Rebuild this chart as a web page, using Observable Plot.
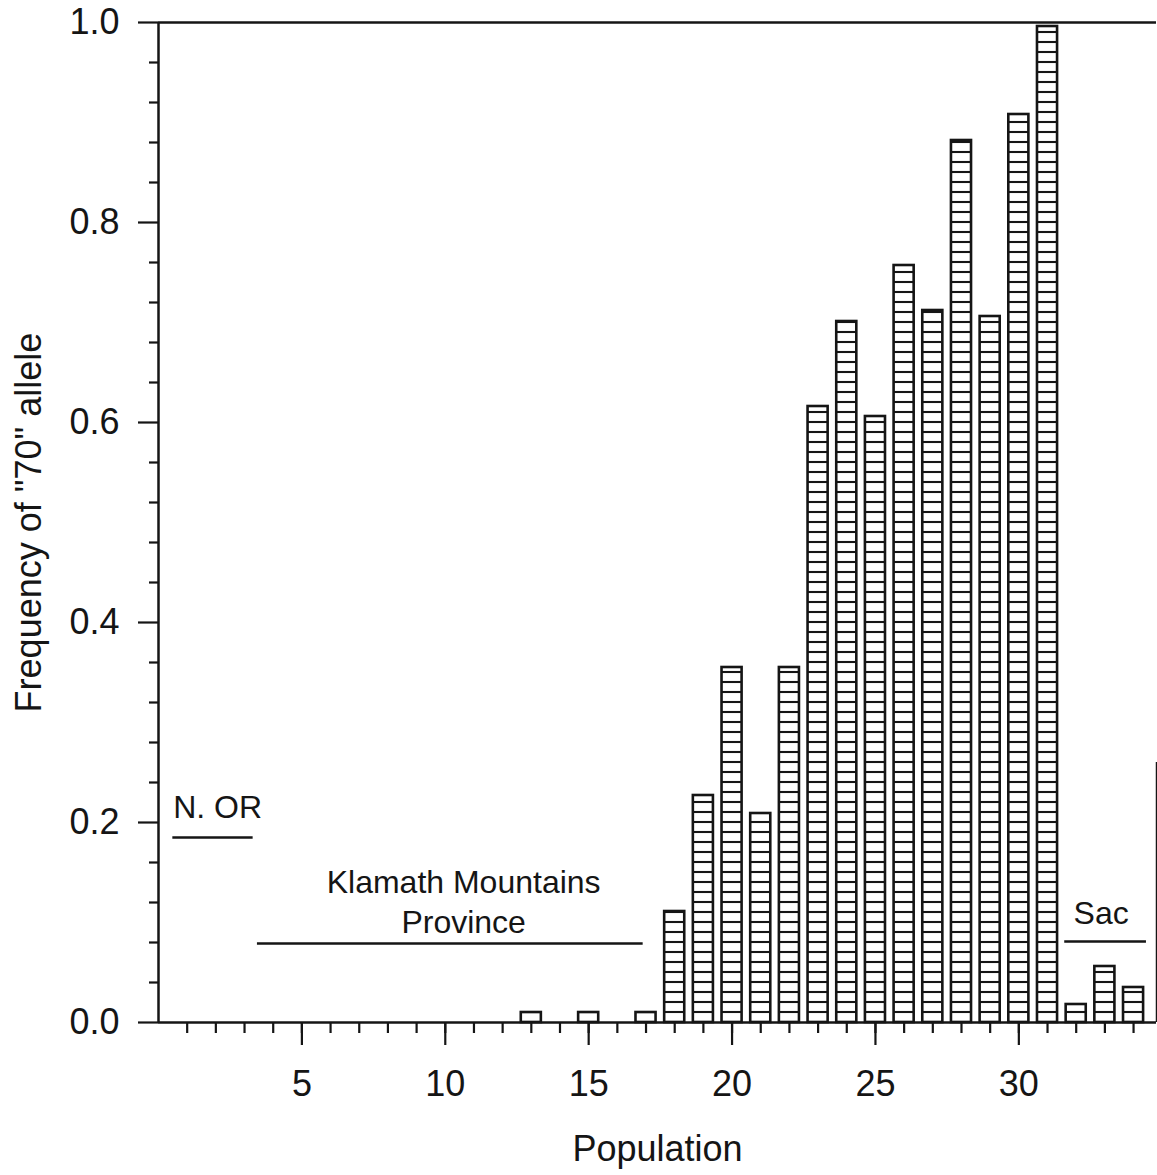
<!DOCTYPE html>
<html>
<head>
<meta charset="utf-8">
<script src="https://cdn.jsdelivr.net/npm/d3@7"></script>
<script src="https://cdn.jsdelivr.net/npm/@observablehq/plot@0.6"></script>
<style>
  html, body { margin: 0; padding: 0; background: #fff; }
  svg { display: block; }
</style>
</head>
<body>
<div id="chart"></div>
<script>
// ---- data ----
const populations = [13, 15, 17, 18, 19, 20, 21, 22, 23, 24, 25, 26, 27, 28, 29, 30, 31, 32, 33, 34];
const frequencies = [0.010, 0.010, 0.010, 0.111, 0.227, 0.355, 0.209, 0.355, 0.616, 0.701, 0.606, 0.757, 0.712, 0.882, 0.706, 0.908, 0.996, 0.018, 0.056, 0.035];

const xMajorTicks = [5, 10, 15, 20, 25, 30];
const xMinorTicks = [1, 2, 3, 4, 5, 6, 7, 8, 9, 10, 11, 12, 13, 14, 15, 16, 17, 18, 19, 20, 21, 22, 23, 24, 25, 26, 27, 28, 29, 30, 31, 32, 33, 34];
const yMajorTicks = [0, 0.2, 0.4, 0.6, 0.8, 1.0];
const yMinorTicks = [0.04, 0.08, 0.12, 0.16, 0.24, 0.28, 0.32, 0.36, 0.44, 0.48, 0.52, 0.56, 0.64, 0.68, 0.72, 0.76, 0.84, 0.88, 0.92, 0.96];

// region annotations (data units)
const regionLabels = ["N. OR", "Klamath Mountains\nProvince", "Sac"];
const regionStart  = [0.5, 3.45, 31.6];
const regionEnd    = [3.3, 16.9, 34.45];
const regionLineY  = [0.185, 0.079, 0.081];
const regionTextX  = [2.06, 10.64, 32.87];
const regionTextY  = [0.205, 0.090, 0.099];

const xMax = 34.8;

// ---- build tables ----
const bars = populations.map((p, i) => ({pop: p, freq: frequencies[i]}));
const regions = regionLabels.map((label, i) => ({
  label, start: regionStart[i], end: regionEnd[i], lineY: regionLineY[i], tx: regionTextX[i], ty: regionTextY[i]
}));

const ink = "#151515";
const halfWidth = 0.35;

const chart = Plot.plot({
  width: 1157,
  height: 1175,
  marginLeft: 158,
  marginRight: 1,
  marginTop: 22,
  marginBottom: 153,
  x: {domain: [0, xMax]},
  y: {domain: [0, 1]},
  style: {
    fontFamily: "'Liberation Sans', Arial, Helvetica, sans-serif",
    color: ink,
    background: "#fff",
    overflow: "visible"
  },
  marks: [
    Plot.rectY(bars, {
      x1: d => d.pop - halfWidth,
      x2: d => d.pop + halfWidth,
      y1: 0,
      y2: "freq",
      fill: "url(#hatch)",
      stroke: ink,
      strokeWidth: 2.6
    }),
    // frame pieces
    Plot.ruleY([0], {stroke: ink, strokeWidth: 2.5}),
    Plot.ruleY([1], {stroke: ink, strokeWidth: 2.5}),
    Plot.ruleX([0], {y1: 0, y2: 1, stroke: ink, strokeWidth: 2.5}),
    Plot.ruleX([xMax], {y1: 0, y2: 0.26, stroke: ink, strokeWidth: 1.5}),
    // axes
    Plot.axisX({ticks: xMinorTicks, tickSize: 11, tickFormat: () => "", label: null, strokeWidth: 2.2}),
    Plot.axisX({
      ticks: xMajorTicks, tickSize: 23, tickPadding: 25, fontSize: 36, strokeWidth: 2.2,
      tickFormat: d => String(d),
      label: "Population", labelAnchor: "center", labelOffset: 138, labelArrow: false
    }),
    Plot.axisY({ticks: yMinorTicks, tickSize: 9, tickFormat: () => "", label: null, strokeWidth: 2.2}),
    Plot.axisY({
      ticks: yMajorTicks, tickSize: 20, tickPadding: 19, fontSize: 36, strokeWidth: 2.2,
      tickFormat: d3.format(".1f"),
      label: 'Frequency of "70" allele', labelAnchor: "center", labelOffset: 143, labelArrow: false
    }),
    // region annotations
    Plot.ruleY(regions, {x1: "start", x2: "end", y: "lineY", stroke: ink, strokeWidth: 2.3}),
    Plot.text(regions, {x: "tx", y: "ty", text: "label", fontSize: 32, lineAnchor: "bottom", lineHeight: 1.25, fill: ink})
  ]
});

// hatch pattern aligned with the baseline
const yScale = chart.scale("y");
const y0 = yScale.apply(0);
const step = y0 - yScale.apply(0.01);
const ns = "http://www.w3.org/2000/svg";
const svg = chart.tagName.toLowerCase() === "svg" ? chart : chart.querySelector("svg");
const defs = document.createElementNS(ns, "defs");
const pat = document.createElementNS(ns, "pattern");
pat.setAttribute("id", "hatch");
pat.setAttribute("patternUnits", "userSpaceOnUse");
pat.setAttribute("width", 10);
pat.setAttribute("height", step);
pat.setAttribute("x", 0);
pat.setAttribute("y", y0 - step / 2);
const bg = document.createElementNS(ns, "rect");
bg.setAttribute("width", 10);
bg.setAttribute("height", step);
bg.setAttribute("fill", "#fff");
const ln = document.createElementNS(ns, "line");
ln.setAttribute("x1", 0); ln.setAttribute("x2", 10);
ln.setAttribute("y1", step / 2); ln.setAttribute("y2", step / 2);
ln.setAttribute("stroke", ink);
ln.setAttribute("stroke-width", 2.1);
pat.appendChild(bg);
pat.appendChild(ln);
defs.appendChild(pat);
svg.insertBefore(defs, svg.firstChild);

document.getElementById("chart").appendChild(chart);
</script>
</body>
</html>
